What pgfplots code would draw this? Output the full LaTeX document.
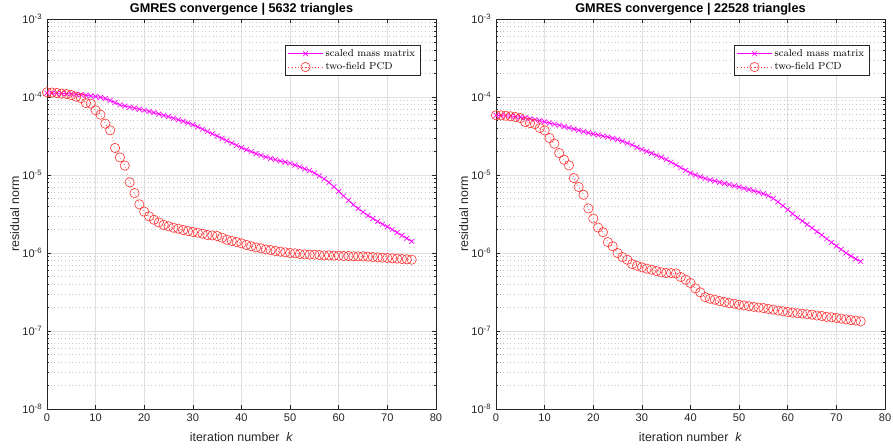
\documentclass[border=0pt]{standalone}
\usepackage{fontspec}
\usepackage{pgfplots}
\usepackage{pgfplotstable}
\pgfplotsset{compat=1.18}
\newfontfamily\arialfont{Liberation Sans}

\definecolor{pcdred}{rgb}{1,0.2,0.2}
\definecolor{mag}{rgb}{1,0,1}
\definecolor{axgray}{gray}{0.15}

% left: 5632 triangles
\pgfplotstableread{
k r
0 1.122e-4
1 1.119e-4
2 1.117e-4
3 1.112e-4
4 1.104e-4
5 1.096e-4
6 1.084e-4
7 1.072e-4
8 1.054e-4
9 1.035e-4
10 1.016e-4
11 9.89e-5
12 9.55e-5
13 9.02e-5
14 8.47e-5
15 7.94e-5
16 7.67e-5
17 7.41e-5
18 7.19e-5
19 6.97e-5
20 6.76e-5
21 6.53e-5
22 6.31e-5
23 6.05e-5
24 5.82e-5
25 5.60e-5
26 5.35e-5
27 5.11e-5
28 4.88e-5
29 4.65e-5
30 4.42e-5
31 4.14e-5
32 3.87e-5
33 3.61e-5
34 3.38e-5
35 3.16e-5
36 2.95e-5
37 2.75e-5
38 2.57e-5
39 2.40e-5
40 2.24e-5
41 2.11e-5
42 2.00e-5
43 1.88e-5
44 1.79e-5
45 1.70e-5
46 1.63e-5
47 1.57e-5
48 1.51e-5
49 1.46e-5
50 1.41e-5
51 1.34e-5
52 1.27e-5
53 1.20e-5
54 1.14e-5
55 1.06e-5
56 9.77e-6
57 8.91e-6
58 8.04e-6
59 7.08e-6
60 6.17e-6
61 5.40e-6
62 4.73e-6
63 4.17e-6
64 3.72e-6
65 3.35e-6
66 3.03e-6
67 2.77e-6
68 2.54e-6
69 2.34e-6
70 2.17e-6
71 2.00e-6
72 1.83e-6
73 1.68e-6
74 1.54e-6
75 1.41e-6
}\massA

\pgfplotstableread{
k r
0 1.15e-4
1 1.14e-4
2 1.125e-4
3 1.104e-4
4 1.091e-4
5 1.06e-4
6 1.01e-4
7 9.66e-5
8 8.38e-5
9 8.22e-5
10 6.75e-5
11 5.94e-5
12 4.55e-5
13 3.74e-5
14 2.22e-5
15 1.68e-5
16 1.32e-5
17 8.05e-6
18 5.87e-6
19 4.21e-6
20 3.39e-6
21 2.95e-6
22 2.67e-6
23 2.47e-6
24 2.29e-6
25 2.20e-6
26 2.11e-6
27 2.05e-6
28 1.97e-6
29 1.91e-6
30 1.86e-6
31 1.82e-6
32 1.77e-6
33 1.70e-6
34 1.68e-6
35 1.65e-6
36 1.57e-6
37 1.48e-6
38 1.43e-6
39 1.38e-6
40 1.33e-6
41 1.27e-6
42 1.22e-6
43 1.18e-6
44 1.15e-6
45 1.11e-6
46 1.09e-6
47 1.06e-6
48 1.04e-6
49 1.02e-6
50 1.00e-6
51 9.91e-7
52 9.70e-7
53 9.61e-7
54 9.52e-7
55 9.52e-7
56 9.42e-7
57 9.33e-7
58 9.33e-7
59 9.25e-7
60 9.25e-7
61 9.16e-7
62 9.16e-7
63 9.06e-7
64 9.06e-7
65 9.06e-7
66 8.97e-7
67 8.88e-7
68 8.79e-7
69 8.71e-7
70 8.63e-7
71 8.55e-7
72 8.46e-7
73 8.38e-7
74 8.30e-7
75 8.22e-7
}\pcdA

% right: 22528 triangles
\pgfplotstableread{
k r
0 5.82e-5
1 5.79e-5
2 5.75e-5
3 5.69e-5
4 5.60e-5
5 5.52e-5
6 5.42e-5
7 5.27e-5
8 5.13e-5
9 4.99e-5
10 4.81e-5
11 4.65e-5
12 4.49e-5
13 4.35e-5
14 4.19e-5
15 4.04e-5
16 3.89e-5
17 3.75e-5
18 3.61e-5
19 3.48e-5
20 3.36e-5
21 3.26e-5
22 3.16e-5
23 3.07e-5
24 2.96e-5
25 2.85e-5
26 2.72e-5
27 2.57e-5
28 2.43e-5
29 2.26e-5
30 2.13e-5
31 2.01e-5
32 1.90e-5
33 1.79e-5
34 1.69e-5
35 1.58e-5
36 1.46e-5
37 1.35e-5
38 1.24e-5
39 1.15e-5
40 1.06e-5
41 1.00e-5
42 9.48e-6
43 9.04e-6
44 8.67e-6
45 8.36e-6
46 8.07e-6
47 7.80e-6
48 7.53e-6
49 7.28e-6
50 7.03e-6
51 6.76e-6
52 6.52e-6
53 6.28e-6
54 6.03e-6
55 5.75e-6
56 5.43e-6
57 5.01e-6
58 4.52e-6
59 4.03e-6
60 3.59e-6
61 3.18e-6
62 2.85e-6
63 2.57e-6
64 2.32e-6
65 2.09e-6
66 1.88e-6
67 1.70e-6
68 1.52e-6
69 1.37e-6
70 1.23e-6
71 1.11e-6
72 1.00e-6
73 9.12e-7
74 8.41e-7
75 7.80e-7
}\massB

\pgfplotstableread{
k r
0 5.83e-5
1 5.82e-5
2 5.75e-5
3 5.65e-5
4 5.53e-5
5 5.37e-5
6 4.78e-5
7 4.63e-5
8 4.50e-5
9 4.00e-5
10 3.73e-5
11 2.98e-5
12 2.52e-5
13 1.91e-5
14 1.57e-5
15 1.33e-5
16 9.14e-6
17 7.02e-6
18 5.58e-6
19 3.73e-6
20 2.77e-6
21 2.12e-6
22 1.85e-6
23 1.38e-6
24 1.22e-6
25 9.98e-7
26 8.87e-7
27 8.20e-7
28 7.21e-7
29 6.87e-7
30 6.55e-7
31 6.30e-7
32 6.11e-7
33 5.87e-7
34 5.65e-7
35 5.53e-7
36 5.53e-7
37 5.47e-7
38 4.92e-7
39 4.55e-7
40 4.12e-7
41 3.52e-7
42 3.13e-7
43 2.72e-7
44 2.59e-7
45 2.52e-7
46 2.42e-7
47 2.35e-7
48 2.28e-7
49 2.24e-7
50 2.17e-7
51 2.13e-7
52 2.08e-7
53 2.04e-7
54 2.00e-7
55 1.97e-7
56 1.92e-7
57 1.88e-7
58 1.83e-7
59 1.79e-7
60 1.75e-7
61 1.72e-7
62 1.69e-7
63 1.67e-7
64 1.64e-7
65 1.62e-7
66 1.58e-7
67 1.56e-7
68 1.52e-7
69 1.50e-7
70 1.47e-7
71 1.44e-7
72 1.41e-7
73 1.38e-7
74 1.36e-7
75 1.33e-7
}\pcdB

\tikzset{
  mass/.style={mag, line width=0.5pt, mark=x, mark size=2.6pt},
  pcd/.style={pcdred, line width=0.5pt, dotted, mark=o, mark size=3.5pt, mark options={solid, line width=0.45pt}},
}

\pgfplotsset{
  log number format basis/.code 2 args={#1\textsuperscript{\pgfmathprintnumber[assume math mode=true]{#2}}},
  legend image code/.code={\draw[mark repeat=2, mark phase=2, #1] plot coordinates {(0cm,0cm) (0.45cm,0cm) (0.9cm,0cm)};},
  gmres/.style={
    scale only axis,
    width=291.75pt, height=292.5pt,
    anchor=south west,
    xmin=0, xmax=80, ymin=1e-8, ymax=1e-3,
    xtick={0,10,...,80},
    ytick={1e-8,1e-7,1e-6,1e-5,1e-4,1e-3},
    /pgf/number format/assume math mode=true,
    tick pos=both, tick align=inside,
    major tick length=3pt, minor tick length=1.7pt,
    every tick/.style={axgray, line width=0.4pt},
    axis line style={axgray, line width=0.5pt},
    xmajorgrids, ymajorgrids, yminorgrids,
    major grid style={gray!25, line width=0.4pt},
    minor grid style={gray!45, line width=0.4pt, dash pattern=on 0.5pt off 2.2pt},
    tick label style={font=\fontsize{8.3}{9}\selectfont\arialfont, color=axgray},
    label style={font=\fontsize{9.3}{10}\selectfont\arialfont, color=axgray},
    ylabel style={yshift=-4.5pt},
    xlabel style={yshift=-1.5pt},
    title style={font=\fontsize{9.5}{10}\selectfont\arialfont\bfseries, yshift=-6.5pt},
    xlabel={iteration number\ \ \textit{k}},
    ylabel={residual norm},
    legend style={at={(0.961,0.933)}, anchor=north east, draw=axgray, line width=0.5pt,
      font=\fontsize{7.6}{9}\selectfont\rmfamily, cells={anchor=west},
      inner xsep=2pt, inner ysep=0.8pt, row sep=-0.8pt},
  },
}

\begin{document}
\begin{tikzpicture}
\useasboundingbox (0,0) rectangle (669.75pt,335.25pt);
\begin{axis}[ymode=log, gmres, at={(35.25pt,28.5pt)}, title={GMRES convergence | 5632 triangles}]
  \addplot[mass] table[x=k, y=r] {\massA};
  \addplot[pcd] table[x=k, y=r] {\pcdA};
  \legend{scaled mass matrix, two-field PCD}
\end{axis}
\begin{axis}[ymode=log, gmres, at={(372pt,28.5pt)}, title={GMRES convergence | 22528 triangles}]
  \addplot[mass] table[x=k, y=r] {\massB};
  \addplot[pcd] table[x=k, y=r] {\pcdB};
  \legend{scaled mass matrix, two-field PCD}
\end{axis}
\end{tikzpicture}
\end{document}
